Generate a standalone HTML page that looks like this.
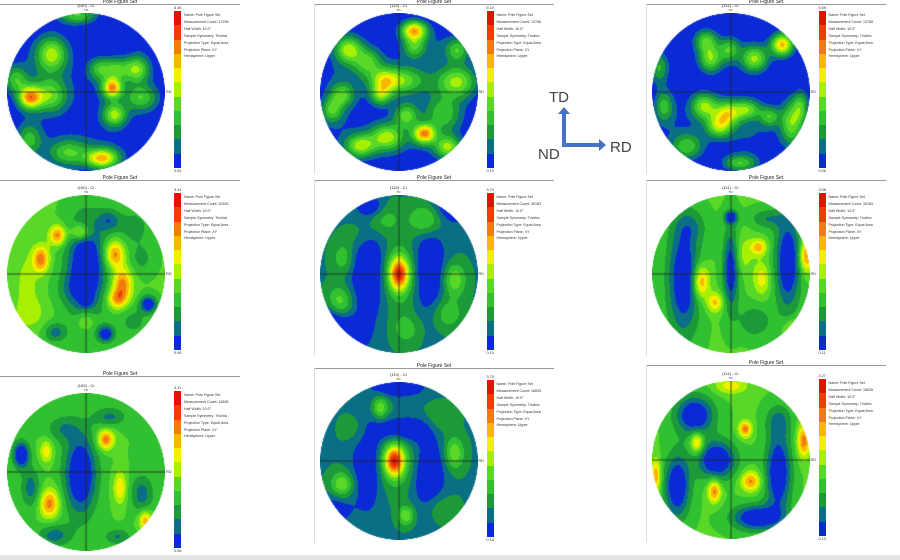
<!DOCTYPE html>
<html><head><meta charset="utf-8"><style>
body{margin:0;width:900px;height:560px;background:#fff;position:relative;overflow:hidden;font-family:"Liberation Sans",sans-serif}
.abs{position:absolute}
.hdr{position:absolute;height:0;border-top:1px solid #999;}
.ttl{position:absolute;font-size:5px;color:#222;text-align:center;white-space:nowrap}
.leg{position:absolute;font-size:3.6px;line-height:6.9px;color:#333;white-space:nowrap}
.tick{position:absolute;font-size:3.8px;color:#333;white-space:nowrap}
.vb{position:absolute;width:0;border-left:1px solid #ddd}
</style></head><body>
<div class="abs" style="left:0;top:555px;width:900px;height:5px;background:#e4e4e4"></div>
<svg class="abs" style="left:530px;top:80px" width="110" height="90">
<text x="19" y="22" font-size="15" fill="#444" font-family="Liberation Sans">TD</text>
<text x="80" y="72" font-size="15" fill="#444" font-family="Liberation Sans">RD</text>
<text x="8" y="79" font-size="15" fill="#444" font-family="Liberation Sans">ND</text>
<path d="M32 67 V34 h-4 l6 -7 l6 7 h-4 V63" fill="#4472c4"/>
<path d="M32 63 H69 v-4 l7 6 l-7 6 v-4 H32 z" fill="#4472c4"/>
</svg>
<div id="root"></div>
<script>
// ---- data ----
const titles = ["(100) - Cr","(110) - Cr","(111) - Cr","(100) - Cr","(110) - Cr","(111) - Cr","(100) - Cr","(110) - Cr","(111) - Cr"];
const maxLabels = ["5.36","5.10","5.59","3.41","3.70","3.06","3.11","3.79","3.27"];
const minLabels = ["0.04","0.10","0.06","0.08","0.10","0.11","0.06","0.13","0.13"];
const counts = ["13788","13788","13788","30183","30183","30183","16835","16835","16835"];
const bases = [-0.5,-0.3,-0.5,4.1,1.9,4.1,4.0,1.9,4.1];
// peaks: [u, v, amplitude, sigmaU, sigmaV]
const peaks0 = [[-0.71,0.07,7.5,0.07,0.07],[0.33,-0.05,7.5,0.06,0.06],[-0.43,-0.48,4.5,0.09,0.1],[-0.89,-0.16,3.5,0.07,0.08],[-0.45,0.05,4,0.1,0.1],[0.64,-0.29,5,0.08,0.08],[0.17,-0.29,3.5,0.07,0.07],[0.38,-0.29,3.5,0.07,0.07],[0.7,0.07,3.5,0.1,0.08],[0.36,0.29,5,0.07,0.07],[0.21,0.84,7,0.1,0.06],[-0.23,0.77,3.5,0.12,0.08],[-0.72,0.6,3.5,0.08,0.1],[-0.1,-0.98,4.5,0.12,0.06],[-0.6,-0.1,1.1,0.25,0.3],[0.45,0.05,1.2,0.3,0.25],[0,0.75,1.2,0.3,0.15],[-0.45,-0.45,1,0.15,0.2],[0.75,-0.7,1.2,0.1,0.1]];
const peaks1 = [[0.19,-0.78,7.5,0.08,0.06],[-0.64,-0.54,5,0.08,0.08],[0.19,-0.57,3.5,0.07,0.07],[0.74,-0.53,3.5,0.07,0.07],[0.74,-0.13,5,0.12,0.1],[0.02,-0.15,4,0.15,0.08],[-0.19,-0.13,3.5,0.08,0.08],[-0.72,0.04,3.5,0.07,0.07],[-0.85,0.23,3.5,0.06,0.07],[-0.23,0.04,3.5,0.06,0.06],[0.09,0.3,4,0.07,0.07],[0.32,0.53,7.5,0.07,0.06],[-0.15,0.57,5,0.1,0.08],[-0.49,0.68,5,0.09,0.07],[0.62,0.7,5,0.08,0.07],[-0.4,-0.38,3.5,0.08,0.08],[0.57,0.28,3,0.1,0.1],[0,-0.1,1,0.35,0.2],[-0.6,-0.4,1,0.2,0.2],[-0.3,0.65,1,0.3,0.15],[0.5,0.35,1,0.2,0.25],[-0.8,0.2,1,0.12,0.2],[0.5,-0.6,1,0.2,0.12]];
const peaks2 = [[0.65,-0.6,7.5,0.07,0.07],[-0.26,-0.42,4.5,0.07,0.08],[-0.32,-0.65,4,0.07,0.07],[-0.02,-0.54,3.5,0.06,0.07],[0.3,-0.42,5,0.08,0.08],[-0.91,-0.31,3.5,0.06,0.1],[-0.34,0.18,5,0.08,0.08],[-0.04,0.26,5,0.08,0.07],[-0.15,0.43,5,0.08,0.07],[0.21,0.22,4,0.08,0.06],[0.49,0.31,3.5,0.06,0.06],[0.77,0.39,5,0.07,0.14],[0.89,0.18,3.5,0.05,0.1],[-0.55,0.69,3.5,0.1,0.08],[0.11,0.9,4,0.1,0.05],[-0.85,0.18,3.5,0.06,0.1],[0.3,0.6,1,0.2,0.2],[0,-0.5,1,0.3,0.15],[0,0.3,1,0.25,0.2],[-0.7,0.5,1,0.15,0.25]];
const peaks3 = [[0,-0.08,-5,0.12,0.3],[-0.36,-0.49,4.5,0.05,0.06],[-0.07,-0.53,3.5,0.06,0.05],[-0.57,-0.19,4.5,0.05,0.08],[0.36,-0.25,4.5,0.06,0.08],[0.46,0.13,4.5,0.06,0.1],[0.39,0.32,3.5,0.06,0.06],[0.29,-0.68,-2.5,0.07,0.07],[-0.39,0.74,-2.5,0.07,0.06],[0.79,0.38,-4.5,0.05,0.05],[0.25,0.76,-4.2,0.05,0.05],[0,0.3,-4,0.03,0.04],[0,0.59,2,0.06,0.06],[-0.2,0.2,-1.1,0.1,0.1],[0.6,-0.6,-1.7,0.1,0.1],[-0.7,0.5,1.2,0.1,0.1],[0.7,-0.2,-1.4,0.08,0.1],[-0.75,0.1,1.2,0.08,0.2],[0.6,0.6,-1.4,0.1,0.1]];
const peaks4 = [[0,0,7,0.06,0.1],[0,0,1.8,0.12,0.22],[-0.39,-0.05,-2.6,0.12,0.32],[0.38,-0.05,-2.6,0.1,0.3],[-0.75,0.79,-2.6,0.15,0.12],[0.7,-0.86,-2.6,0.12,0.1],[-0.35,-0.85,-2,0.08,0.06],[0.34,-0.69,3,0.1,0.1],[-0.75,0.37,3.2,0.08,0.1],[0.7,0.07,3,0.07,0.1],[-0.7,-0.2,2,0.07,0.1],[0.6,0.5,2,0.1,0.1],[-0.2,-0.7,1.8,0.1,0.1],[0.1,0.7,1.6,0.1,0.1],[-0.5,-0.5,1.2,0.1,0.1],[-0.85,0.55,-2,0.1,0.1]];
const peaks5 = [[-0.6,0.06,-4.5,0.1,0.35],[0.72,-0.15,-4.5,0.08,0.3],[0,-0.06,-4.2,0.05,0.25],[0,-0.72,-4,0.04,0.04],[-0.38,0.1,4.5,0.05,0.1],[0.95,-0.23,4.5,0.04,0.1],[0.35,-0.34,3.5,0.05,0.05],[-0.2,0.36,3.2,0.05,0.06],[0.39,0.06,2.5,0.05,0.1],[0.45,-0.7,-2,0.1,0.06],[0.3,0.6,-2,0.1,0.1],[-0.5,-0.6,-1.4,0.1,0.1],[0.8,0.7,2.5,0.06,0.06],[0.15,-0.25,1.5,0.06,0.12]];
const peaks6 = [[-0.07,0.03,-4.8,0.1,0.25],[-0.82,-0.22,-4.8,0.05,0.08],[0.71,0.28,-2.5,0.07,0.12],[-0.4,0.8,-2.5,0.1,0.07],[0.25,-0.41,4.8,0.05,0.06],[-0.46,0.4,4.5,0.06,0.09],[0.43,0.2,3,0.04,0.1],[-0.5,-0.26,2.8,0.04,0.07],[0.75,0.61,3.8,0.04,0.06],[0.3,-0.7,-2.2,0.1,0.06],[-0.3,-0.55,-1.8,0.1,0.08],[-0.7,0.2,-2.5,0.06,0.12],[0.4,0.82,-2.1,0.08,0.05]];
const peaks7 = [[-0.06,0,7,0.06,0.09],[-0.06,0,1.8,0.14,0.2],[-0.39,0,-2.6,0.1,0.3],[0.38,0.19,-2.6,0.1,0.25],[0.05,-0.4,-2.6,0.2,0.08],[0,-0.94,-2.6,0.15,0.06],[-0.24,-0.67,3.2,0.05,0.07],[-0.72,0.3,3.2,0.07,0.08],[0.09,0.69,3,0.05,0.06],[0.7,-0.1,3,0.06,0.1],[0.5,-0.5,1.5,0.1,0.1],[-0.5,-0.4,1.5,0.1,0.1],[0.5,0.6,1.5,0.1,0.1],[-0.8,0.6,-1.7,0.1,0.1]];
const peaks8 = [[-0.18,0,-4.8,0.12,0.12],[-0.46,-0.57,-4.6,0.12,0.12],[0.32,0.73,-4.6,0.15,0.08],[0.6,0.16,-4.6,0.08,0.25],[-0.68,0.33,-4.6,0.08,0.2],[0.18,-0.39,4.5,0.04,0.05],[-0.43,-0.22,4.2,0.04,0.06],[0.25,0.27,4.2,0.06,0.06],[-0.21,0.39,4.5,0.04,0.07],[0.92,-0.24,4.5,0.04,0.1],[-0.95,0.2,4,0.03,0.1],[0,-0.94,2.5,0.1,0.05],[0.6,-0.5,-2,0.08,0.1]];
const allPeaks = [peaks0,peaks1,peaks2,peaks3,peaks4,peaks5,peaks6,peaks7,peaks8];
// ---- layout/style ----
const SIG = 1.45;
const colors = ["#0a2ad6","#0a6e84","#1c9a3a","#30c030","#5ad828","#a8f000","#f0f000","#f8b800","#f07c10","#f03c00","#e01400"];
const cxs=[86,398.5,730.5], hdrX=[0,314,646];
const rowCy=[[92,92,92],[274,274,274],[472,461,460]];
const rowHdr=[[4,4,4],[180,180,180],[376,368,365]];
const R=79;
const root=document.getElementById('root');
function mk(tag,cls,style){const e=document.createElement(tag);if(cls)e.className=cls;e.style.cssText=style||'';root.appendChild(e);return e;}
for(let i=0;i<9;i++){
  const row=Math.floor(i/3),col=i%3;
  const cx=cxs[col],cy=rowCy[row][col],hy=rowHdr[row][col],x0=hdrX[col];
  const hd=mk('div','hdr',`left:${x0}px;top:${hy}px;width:240px`);
  
  
  if(col>0){const vb=mk('div','vb',`left:${x0}px;top:${hy}px;height:${cy+82-hy}px`);
    
    }
  const t=mk('div','ttl',`left:${x0}px;width:240px;top:${hy-5}px`);t.textContent='Pole Figure Set';
  
  
  const st=mk('div','ttl',`left:${cx-30}px;width:60px;top:${cy-R-10}px;font-size:4px`);st.textContent=titles[i];
  
  
  const td=mk('div','tick',`left:${cx-2}px;top:${cy-R-5}px;font-size:3px`);td.textContent='TD';
  
  
  const rd=mk('div','tick',`left:${cx+R+1}px;top:${cy-2}px`);rd.textContent='RD';
  
  
  const cv=mk('canvas','',`position:absolute;left:${cx-R}px;top:${cy-R}px`);
  
  
  const S=R*2;cv.width=S;cv.height=S;
  const ctx=cv.getContext('2d');const img=ctx.createImageData(S,S);
  const pk=allPeaks[i],b=bases[i];
  const rgb=colors.map(c=>[parseInt(c.substr(1,2),16),parseInt(c.substr(3,2),16),parseInt(c.substr(5,2),16)]);
  for(let y=0;y<S;y++)for(let x=0;x<S;x++){
    const u=(x+0.5-R)/R,v=(y+0.5-R)/R;const d=u*u+v*v;if(d>1)continue;
    let f=b;for(const p of pk){const du=(u-p[0])/(p[3]*SIG),dv=(v-p[1])/(p[4]*SIG);f+=p[2]*Math.exp(-(du*du+dv*dv)/2);}
    let lv=Math.max(0,Math.min(10,Math.floor(f)));const c=rgb[lv];const k=(y*S+x)*4;
    const a=d>0.985?Math.max(0,(1-d)/0.015):1;
    img.data[k]=c[0];img.data[k+1]=c[1];img.data[k+2]=c[2];img.data[k+3]=255*Math.min(1,a+0.3);
  }
  ctx.putImageData(img,0,0);
  ctx.strokeStyle='#222';ctx.lineWidth=0.8;ctx.beginPath();ctx.moveTo(0,R);ctx.lineTo(S,R);ctx.moveTo(R,0);ctx.lineTo(R,S);ctx.stroke();
  const top=cy-81,bot=cy+76,h=(bot-top)/colors.length;
  for(let k=0;k<colors.length;k++){const s=mk('div','',`position:absolute;left:${cx+88}px;top:${top+k*h}px;width:7px;height:${h+0.5}px;background:${colors[colors.length-1-k]}`);
    
    }
  const mx=mk('div','tick',`left:${cx+88}px;top:${top-5}px`);mx.textContent=maxLabels[i];
  
  
  const mn=mk('div','tick',`left:${cx+88}px;top:${bot+1}px`);mn.textContent=minLabels[i];
  
  
  const lg=mk('div','leg',`left:${cx+98}px;top:${top+1}px`);
  lg.innerHTML=`Name: Pole Figure Set<br>Measurement Count: ${counts[i]}<br>Half Width: 10.0°<br>Sample Symmetry: Triclinic<br>Projection Type: Equal Area<br>Projection Plane: XY<br>Hemisphere: Upper`;
  
  
}
</script>
</body></html>
